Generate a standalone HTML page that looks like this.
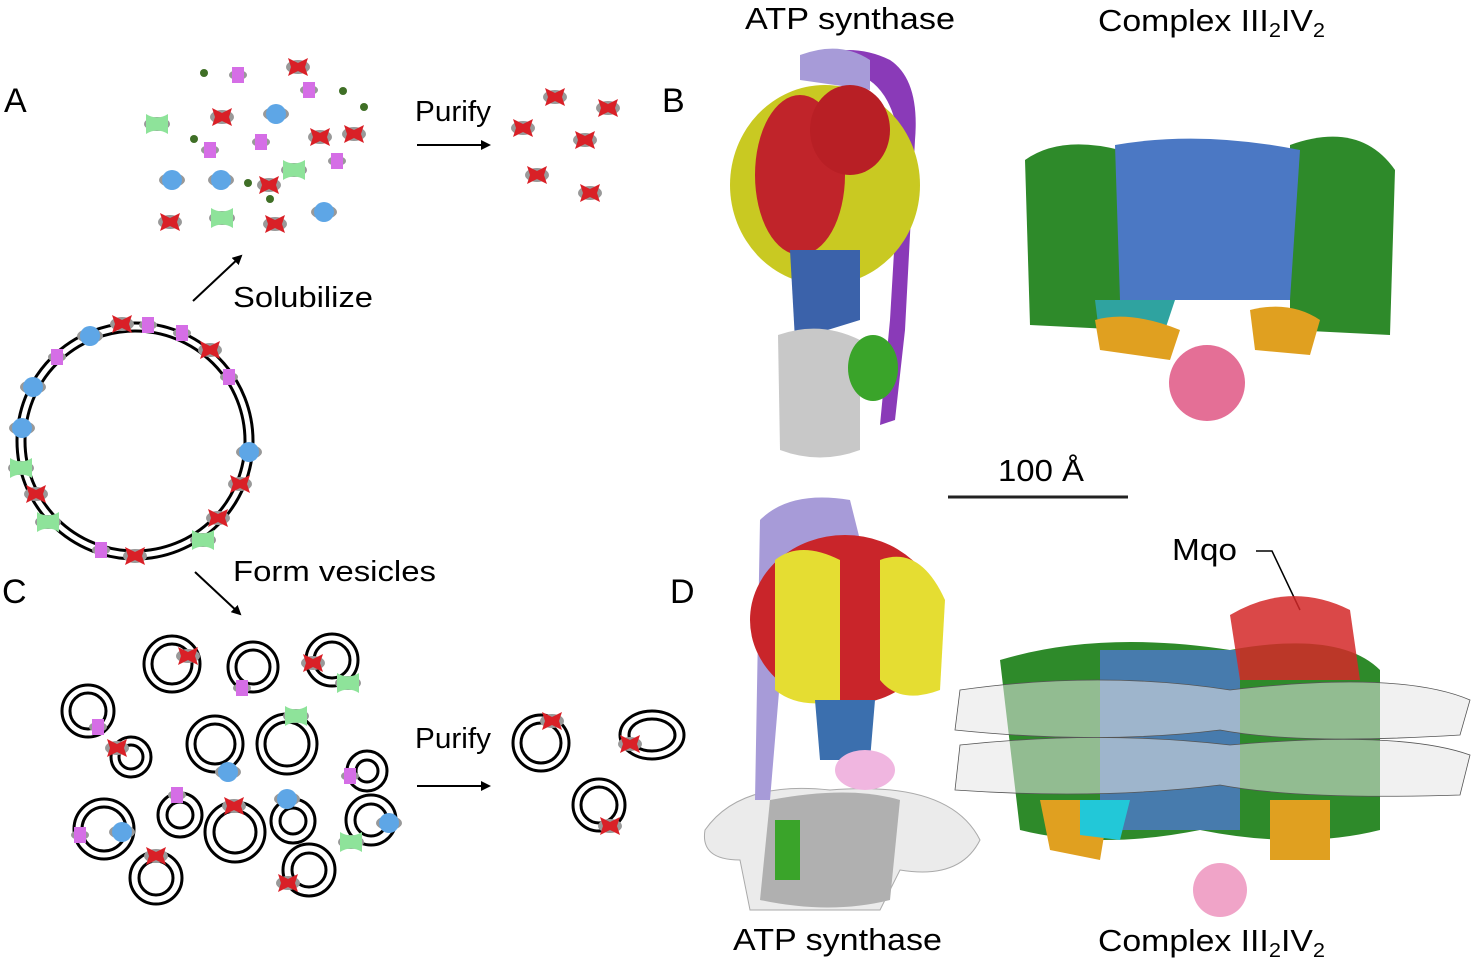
<!DOCTYPE html>
<html><head><meta charset="utf-8"><style>
body{margin:0;background:#fff;}
svg{display:block;font-family:"Liberation Sans",Arial,sans-serif;}
</style></head><body>
<svg width="1475" height="962" viewBox="0 0 1475 962" xmlns="http://www.w3.org/2000/svg">
<defs>
<marker id="ah" markerWidth="10" markerHeight="10" refX="8" refY="5" orient="auto" markerUnits="userSpaceOnUse"><path d="M0,0 L10,5 L0,10 Z" fill="#000"/></marker>
<g id="red"><ellipse cx="0" cy="0" rx="12" ry="7" fill="#999"/><path d="M-10,-9 L0,-4 L10,-9 L7,0 L10,9 L0,4 L-10,9 L-7,0Z" fill="#d92027"/></g>
<g id="blue"><ellipse cx="0" cy="0" rx="13" ry="7" fill="#999"/><circle cx="0" cy="0" r="10" fill="#5ea6e6"/></g>
<g id="green"><ellipse cx="0" cy="0" rx="13" ry="7" fill="#999"/><path d="M-11,-10 Q0,-3 11,-10 L11,10 Q0,3 -11,10Z" fill="#8ee39a"/></g>
<g id="mag"><ellipse cx="0" cy="0" rx="9" ry="5" fill="#999"/><rect x="-6" y="-8" width="12" height="16" fill="#d56ee6"/></g>
</defs>

<g font-size="34" fill="#000">
<text x="4" y="112">A</text><text x="662" y="112">B</text>
<text x="2" y="603">C</text><text x="670" y="603">D</text>
</g>
<g font-size="31" fill="#000">
<text x="745" y="29" textLength="210" lengthAdjust="spacingAndGlyphs">ATP synthase</text>
<text x="1098" y="31" textLength="227" lengthAdjust="spacingAndGlyphs">Complex III<tspan font-size="20" dy="6">2</tspan><tspan dy="-6">IV</tspan><tspan font-size="20" dy="6">2</tspan></text>
<text x="733" y="950" textLength="209" lengthAdjust="spacingAndGlyphs">ATP synthase</text>
<text x="1098" y="951" textLength="227" lengthAdjust="spacingAndGlyphs">Complex III<tspan font-size="20" dy="6">2</tspan><tspan dy="-6">IV</tspan><tspan font-size="20" dy="6">2</tspan></text>
<text x="998" y="481" textLength="86" lengthAdjust="spacingAndGlyphs">100 Å</text>
<text x="1172" y="560" textLength="65" lengthAdjust="spacingAndGlyphs">Mqo</text>
</g>
<g font-size="29" fill="#000">
<text x="415" y="121" textLength="76" lengthAdjust="spacingAndGlyphs">Purify</text>
<text x="415" y="748" textLength="76" lengthAdjust="spacingAndGlyphs">Purify</text>
<text x="233" y="307" textLength="140" lengthAdjust="spacingAndGlyphs">Solubilize</text>
<text x="233" y="581" textLength="203" lengthAdjust="spacingAndGlyphs">Form vesicles</text>
</g>
<g stroke="#000" stroke-width="2" marker-end="url(#ah)">
<line x1="417" y1="145" x2="489" y2="145"/>
<line x1="417" y1="786" x2="489" y2="786"/>
<line x1="193" y1="301" x2="241" y2="256"/>
<line x1="195" y1="572" x2="240" y2="614"/>
</g>
<line x1="948" y1="497" x2="1128" y2="497" stroke="#222" stroke-width="3"/>
<path d="M1256,551 L1272,551 L1300,610" stroke="#000" stroke-width="1.5" fill="none"/>

<g>
<use href="#mag" x="238" y="75"/><use href="#red" x="298" y="67"/><use href="#green" x="157" y="124"/>
<use href="#red" x="222" y="117"/><use href="#blue" x="276" y="114"/><use href="#mag" x="309" y="90"/>
<use href="#mag" x="210" y="150"/><use href="#mag" x="261" y="142"/><use href="#red" x="320" y="137"/>
<use href="#red" x="354" y="134"/><use href="#mag" x="337" y="161"/><use href="#green" x="294" y="170"/>
<use href="#blue" x="172" y="180"/><use href="#blue" x="221" y="180"/><use href="#red" x="269" y="185"/>
<use href="#red" x="170" y="222"/><use href="#green" x="222" y="218"/><use href="#red" x="275" y="224"/>
<use href="#blue" x="324" y="212"/>
</g>
<g fill="#3f6f26"><circle cx="204" cy="73" r="4"/><circle cx="343" cy="91" r="4"/><circle cx="364" cy="107" r="4"/><circle cx="194" cy="139" r="4"/><circle cx="248" cy="183" r="4"/><circle cx="270" cy="199" r="4"/></g>
<g><use href="#red" x="555" y="97"/><use href="#red" x="608" y="108"/><use href="#red" x="523" y="128"/><use href="#red" x="585" y="140"/><use href="#red" x="537" y="175"/><use href="#red" x="590" y="193"/></g>

<circle cx="135" cy="441" r="118" fill="none" stroke="#000" stroke-width="3"/>
<circle cx="135" cy="441" r="110" fill="none" stroke="#000" stroke-width="3"/>
<use href="#red" x="122" y="324"/><use href="#mag" x="148" y="325"/><use href="#blue" x="90" y="336"/><use href="#mag" x="182" y="333"/>
<use href="#red" x="210" y="350"/><use href="#mag" x="57" y="357"/><use href="#mag" x="229" y="377"/><use href="#blue" x="33" y="387"/>
<use href="#blue" x="22" y="428"/><use href="#blue" x="249" y="452"/><use href="#green" x="21" y="468"/><use href="#red" x="240" y="484"/>
<use href="#red" x="36" y="494"/><use href="#green" x="48" y="522"/><use href="#red" x="218" y="518"/><use href="#green" x="203" y="540"/>
<use href="#mag" x="101" y="550"/><use href="#red" x="135" y="556"/>

<g fill="none" stroke="#000" stroke-width="3">
<circle cx="172" cy="664" r="28"/><circle cx="172" cy="664" r="20"/>
<circle cx="253" cy="667" r="25"/><circle cx="253" cy="667" r="17"/>
<circle cx="332" cy="660" r="26"/><circle cx="332" cy="660" r="18"/>
<circle cx="88" cy="711" r="26"/><circle cx="88" cy="711" r="18"/>
<circle cx="131" cy="757" r="20"/><circle cx="131" cy="757" r="12"/>
<circle cx="215" cy="744" r="28"/><circle cx="215" cy="744" r="20"/>
<circle cx="287" cy="744" r="30"/><circle cx="287" cy="744" r="22"/>
<circle cx="367" cy="771" r="20"/><circle cx="367" cy="771" r="11"/>
<circle cx="104" cy="829" r="30"/><circle cx="104" cy="829" r="22"/>
<circle cx="180" cy="815" r="22"/><circle cx="180" cy="815" r="13"/>
<circle cx="235" cy="832" r="30"/><circle cx="235" cy="832" r="21"/>
<circle cx="293" cy="821" r="22"/><circle cx="293" cy="821" r="13"/>
<circle cx="371" cy="820" r="25"/><circle cx="371" cy="820" r="16"/>
<circle cx="156" cy="878" r="26"/><circle cx="156" cy="878" r="17"/>
<circle cx="309" cy="870" r="26"/><circle cx="309" cy="870" r="17"/>
<circle cx="541" cy="743" r="28"/><circle cx="541" cy="743" r="20"/>
<ellipse cx="652" cy="735" rx="32" ry="24"/><ellipse cx="652" cy="735" rx="23" ry="16"/>
<circle cx="599" cy="805" r="26"/><circle cx="599" cy="805" r="18"/>
</g>
<use href="#red" x="188" y="656"/><use href="#mag" x="242" y="688"/><use href="#red" x="313" y="663"/><use href="#green" x="348" y="683"/>
<use href="#mag" x="98" y="727"/><use href="#red" x="117" y="748"/><use href="#green" x="296" y="716"/><use href="#blue" x="228" y="772"/>
<use href="#mag" x="350" y="776"/><use href="#mag" x="177" y="795"/><use href="#blue" x="287" y="799"/><use href="#red" x="234" y="806"/>
<use href="#mag" x="80" y="835"/><use href="#blue" x="122" y="832"/><use href="#blue" x="389" y="823"/><use href="#green" x="351" y="842"/>
<use href="#red" x="156" y="856"/><use href="#red" x="288" y="883"/>
<use href="#red" x="552" y="721"/><use href="#red" x="630" y="744"/><use href="#red" x="610" y="826"/>

<!-- B ATP synthase -->
<path d="M800,60 Q850,40 890,60 Q920,80 915,140 L905,330 L895,420 L880,425 L890,320 L900,150 Q895,90 860,75 Z" fill="#8a3ab8"/>
<path d="M800,55 Q840,40 870,60 L870,90 L800,80Z" fill="#a79bd8"/>
<ellipse cx="825" cy="185" rx="95" ry="100" fill="#c9c922"/>
<ellipse cx="800" cy="175" rx="45" ry="80" fill="#c0242a"/>
<ellipse cx="850" cy="130" rx="40" ry="45" fill="#b81f25"/>
<path d="M790,250 L860,250 L860,320 L795,340 Z" fill="#3b62aa"/>
<path d="M778,335 Q820,320 860,340 L860,450 Q820,465 780,450 Z" fill="#c8c8c8"/>
<ellipse cx="873" cy="368" rx="25" ry="33" fill="#3aa42a"/>

<!-- B complex -->
<path d="M1025,160 Q1060,135 1120,150 L1130,330 L1030,325 Z" fill="#2e8a2a"/>
<path d="M1290,145 Q1360,120 1395,170 L1390,335 L1290,330 Z" fill="#2e8a2a"/>
<path d="M1115,145 Q1200,130 1300,150 L1290,300 L1120,300 Z" fill="#4b78c4"/>
<path d="M1095,300 L1175,300 L1160,345 L1100,340Z" fill="#2fa3a0"/>
<path d="M1095,320 Q1130,310 1180,330 L1170,360 L1100,350Z" fill="#e0a020"/>
<path d="M1250,310 Q1290,300 1320,320 L1310,355 L1255,350Z" fill="#e0a020"/>
<circle cx="1207" cy="383" r="38" fill="#e46f96"/>

<!-- D ATP synthase -->
<path d="M705,830 Q740,780 830,790 Q950,780 980,840 Q960,880 900,870 L880,910 L750,910 L740,860 Q700,860 705,830Z" fill="#ebebeb" stroke="#aaa" stroke-width="1"/>
<path d="M760,520 Q790,490 850,500 L860,540 L790,560 L770,800 L755,800 Z" fill="#a79bd8"/>
<ellipse cx="845" cy="620" rx="95" ry="85" fill="#c9252a"/>
<path d="M775,560 Q800,540 840,560 L840,700 Q800,710 775,690Z" fill="#e5dd32"/>
<path d="M880,560 Q920,545 945,600 L940,690 Q900,705 880,680Z" fill="#e5dd32"/>
<path d="M815,700 L875,700 L870,760 L820,760Z" fill="#3b6fae"/>
<ellipse cx="865" cy="770" rx="30" ry="20" fill="#f0b6e0"/>
<path d="M770,800 Q850,785 900,800 L890,900 Q830,915 760,900Z" fill="#b0b0b0"/>
<rect x="775" y="820" width="25" height="60" fill="#3aa42a"/>

<!-- D complex -->
<path d="M1000,660 Q1100,630 1230,650 Q1340,630 1380,670 L1380,830 Q1300,850 1200,830 Q1100,850 1020,830Z" fill="#2e8a2a"/>
<path d="M1100,650 L1240,650 L1240,830 L1100,830Z" fill="#4b78c4" opacity="0.85"/>
<path d="M1040,800 L1110,800 L1100,860 L1050,850Z" fill="#e0a020"/>
<path d="M1270,800 L1330,800 L1330,860 L1270,860Z" fill="#e0a020"/>
<path d="M1080,800 L1130,800 L1120,840 L1080,835Z" fill="#22c8d8"/>
<path d="M1230,615 Q1290,580 1350,610 L1360,680 L1240,680Z" fill="#d42828" opacity="0.85"/>
<g fill="#e6e6e6" fill-opacity="0.55" stroke="#555" stroke-width="0.8">
<path d="M960,690 Q1100,670 1230,690 Q1400,670 1470,700 L1460,735 Q1300,745 1220,730 Q1100,745 955,730Z"/>
<path d="M960,745 Q1100,730 1230,745 Q1400,730 1470,755 L1460,795 Q1300,800 1220,785 Q1100,800 955,790Z"/>
</g>
<circle cx="1220" cy="890" r="27" fill="#f0a4c8"/>
</svg>
</body></html>
